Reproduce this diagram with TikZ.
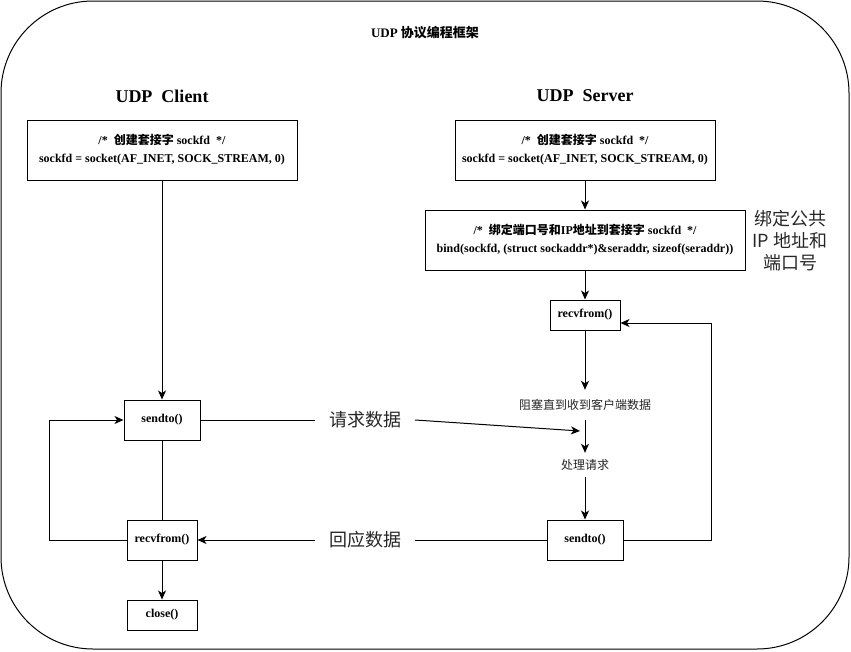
\documentclass[tikz,border=0pt]{standalone}
\usepackage{fontspec}
\setmainfont{Liberation Serif}
\newfontfamily\cjk{Noto Sans CJK SC}
\usetikzlibrary{arrows.meta}
\newcommand{\zh}[1]{{\cjk #1}}
\tikzset{
  box/.style={draw, line width=1pt, fill=white, align=center, inner sep=2pt,
              font=\bfseries\fontsize{12}{18}\selectfont},
  lbl/.style={font=\cjk\fontsize{18}{22}\selectfont, text=black!85, inner sep=0pt},
  small/.style={font=\cjk\fontsize{12}{14}\selectfont, text=black!85, inner sep=0pt},
  conn/.style={line width=1pt},
  arr/.style={line width=1pt, -{Stealth[length=9pt,width=8pt,inset=2.5pt]}},
}
\begin{document}
\begin{tikzpicture}[x=1pt,y=-1pt]
\useasboundingbox (0,0) rectangle (851,651);
\draw[line width=1pt, rounded corners=92pt] (1,1) rectangle (849,649);

\node[font=\bfseries\fontsize{13}{15}\selectfont] (title) at (425,33) {UDP \zh{协议编程框架}};
\node[font=\bfseries\fontsize{18}{20}\selectfont] (cl) at (162,96) {UDP\ \ Client};
\node[font=\bfseries\fontsize{18}{20}\selectfont] (sv) at (585,96) {UDP\ \ Server};

% client
\node[box, minimum width=270, minimum height=60] (csock) at (162,150)
  {/*\ \ \zh{创建套接字} sockfd\ \ */\\sockfd = socket(AF\_INET, SOCK\_STREAM, 0)};
\node[box, minimum width=76, minimum height=40] (csend) at (162,420) {sendto()};
\node[box, minimum width=70, minimum height=40] (crecv) at (162,540) {recvfrom()};
\node[box, minimum width=70, minimum height=30] (cclose) at (162,615) {close()};

% server
\node[box, minimum width=260, minimum height=60] (ssock) at (585,150)
  {/*\ \ \zh{创建套接字} sockfd\ \ */\\sockfd = socket(AF\_INET, SOCK\_STREAM, 0)};
\node[box, minimum width=320, minimum height=60] (bind) at (585,240)
  {/*\ \ \zh{绑定端口号和}IP\zh{地址到套接字} sockfd\ \ */\\bind(sockfd, (struct sockaddr*)\&seraddr, sizeof(seraddr))};
\node[lbl, align=center] (bindlbl) at (790,241) {绑定公共\\IP 地址和\\端口号};
\node[box, minimum width=70, minimum height=30] (srecv) at (585,315) {recvfrom()};
\node[small, minimum height=30] (block) at (585,405) {阻塞直到收到客户端数据};
\node[small, minimum height=24] (proc) at (585,465) {处理请求};
\node[box, minimum width=76, minimum height=40] (ssend) at (585,540) {sendto()};

% middle labels
\node[lbl, minimum width=100] (req) at (365,420) {请求数据};
\node[lbl, minimum width=100] (resp) at (365,540) {回应数据};
\coordinate (reqend) at (580,431);
\coordinate (sloop) at (711,323);

% client connectors
\draw[arr] (csock.south) -- (csend.north);
\draw[conn] (csend.south) -- (crecv.north);
\draw[arr] (crecv.south) -- (cclose.north);
\draw[arr] (crecv.west) -- ++(-77,0) |- (csend.west);

% server connectors
\draw[arr] (ssock.south) -- (bind.north);
\draw[arr] (bind.south) -- (srecv.north);
\draw[arr] (srecv.south) -- (block.north);
\draw[arr] (block.south) -- (proc.north);
\draw[arr] (proc.south) -- (ssend.north);
\draw[arr] (ssend.east) -| (sloop) -- (srecv.east |- sloop);

% cross connectors
\draw[conn] (csend.east) -- (req.west);
\draw[arr] (req.east) -- (reqend);
\draw[conn] (ssend.west) -- (resp.east);
\draw[arr] (resp.west) -- (crecv.east);
\end{tikzpicture}
\end{document}
